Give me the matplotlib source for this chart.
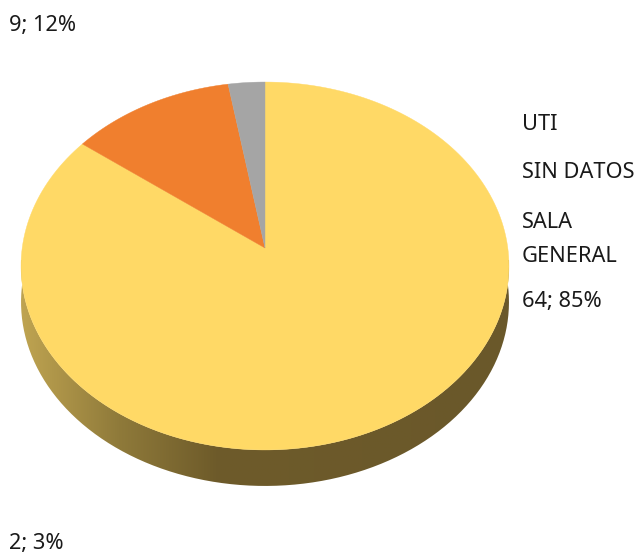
# Tilted 3D pie, drawn by hand since matplotlib has no 3D pie
import matplotlib
matplotlib.use('Agg')
import matplotlib.pyplot as plt
import numpy as np
from matplotlib.colors import LinearSegmentedColormap
from matplotlib.patches import PathPatch, Polygon
from matplotlib.path import Path

values = [64, 9, 2]
slice_colors = ['#FFD966', '#F07F2E', '#A5A5A5']
value_labels = ['64; 85%', '9; 12%', '2; 3%']
legend_labels = ['UTI', 'SIN DATOS', 'SALA', 'GENERAL']

plt.rcParams['font.family'] = ['Noto Sans', 'DejaVu Sans']

# pie geometry in pixels
cx, cy = 265, 248
A, B, k = 242.8, 182.2, 0.0978
depth = 36


def rim(theta):
    # theta is clockwise from the top, in radians
    u, v = np.sin(theta), np.cos(theta)
    d = 1 + k * v
    return cx + A * u / d, cy - B * v / d


fig = plt.figure(figsize=(6.37, 5.57), dpi=100)
ax = fig.add_axes([0, 0, 1, 1])

# side of the disc
t = np.linspace(np.pi / 2 - 0.12, 3 * np.pi / 2 + 0.12, 200)
xs, ys = rim(t)
side = np.vstack([np.column_stack([xs, ys]),
                  np.column_stack([xs[::-1], ys[::-1] + depth])])
side_patch = PathPatch(Path(np.vstack([side, side[0]])), fc='none', ec='none')
ax.add_patch(side_patch)
side_cmap = LinearSegmentedColormap.from_list(
    'side', [(0, '#6A582A'), (0.6, '#6E5B2A'), (0.8, '#8F7A3A'), (1, '#BFA451')])
grad = np.linspace(0, 1, 256).reshape(1, -1)
im = ax.imshow(grad, cmap=side_cmap, extent=[509, 21, 490, 260], aspect='auto', zorder=1)
im.set_clip_path(side_patch)

ax.set_xlim(0, 637)
ax.set_ylim(557, 0)
ax.axis('off')

# top face
angles = np.cumsum([0] + values) / sum(values) * 2 * np.pi
for i in range(len(values)):
    t = np.linspace(angles[i], angles[i + 1], 200)
    xs, ys = rim(t)
    pts = np.vstack([[cx, cy], np.column_stack([xs, ys])])
    ax.add_patch(Polygon(pts, closed=True, fc=slice_colors[i], ec=slice_colors[i],
                         lw=0.3, zorder=2))

# labels
fs = 15.7
tc = '#1A1A1A'
ax.text(9, 26, value_labels[1], fontsize=fs, color=tc, va='center')
ax.text(9, 543, value_labels[2], fontsize=fs, color=tc, va='center')
ax.text(522, 125, legend_labels[0], fontsize=fs, color=tc, va='center')
ax.text(522, 172, legend_labels[1], fontsize=fs, color=tc, va='center')
ax.text(522, 222, legend_labels[2], fontsize=fs, color=tc, va='center')
ax.text(522, 256, legend_labels[3], fontsize=fs, color=tc, va='center')
ax.text(522, 302, value_labels[0], fontsize=fs, color=tc, va='center')

fig.savefig('out.png', dpi=100)
